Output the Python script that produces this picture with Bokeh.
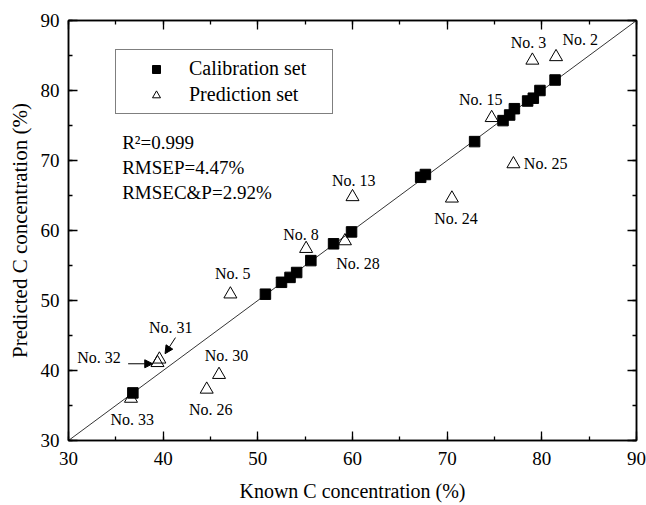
from bokeh.plotting import figure
from bokeh.models import (LinearAxis, Legend, LegendItem, Arrow, NormalHead,
                          ColumnDataSource, Range1d, SingleIntervalTicker,
                          CustomLabelingPolicy)
from bokeh.core.properties import value
from bokeh.embed import file_html
from bokeh.resources import INLINE

FONT = "Liberation Serif"

# ---- data ----
cal_known = [36.8, 50.8, 52.5, 53.4, 54.1, 55.6, 58.0, 59.9, 67.2, 67.7,
             72.9, 75.9, 76.6, 77.1, 78.5, 79.1, 79.8, 81.4]
cal_pred = [36.8, 50.9, 52.6, 53.3, 54.0, 55.7, 58.1, 59.8, 67.6, 68.0,
            72.7, 75.7, 76.5, 77.4, 78.5, 78.9, 80.0, 81.5]

pred_names = ["No. 2", "No. 3", "No. 5", "No. 8", "No. 13", "No. 15", "No. 24",
              "No. 25", "No. 26", "No. 28", "No. 30", "No. 31", "No. 32", "No. 33"]
pred_known = [81.5, 79.0, 47.1, 55.1, 60.0, 74.7, 70.5, 77.0, 44.6, 59.2,
              45.9, 39.6, 39.4, 36.6]
pred_pred = [84.8, 84.3, 50.9, 57.4, 64.8, 76.1, 64.6, 69.5, 37.3, 58.5,
             39.4, 41.6, 41.1, 36.0]

# label positions (data coordinates)
label_x = [84.05, 78.6, 47.36, 54.56, 60.14, 73.55, 70.93, 80.4, 45.02, 60.58,
           46.7, 40.81, 33.22, 36.73]
label_y = [87.3, 86.8, 53.8, 59.5, 67.14, 78.67, 61.67, 69.53, 34.43, 55.24,
           42.14, 46.19, 41.9, 33.0]

diag = [30, 90]

stats_text = ["R\u00b2=0.999", "RMSEP=4.47%", "RMSEC&P=2.92%"]
stats_x = [35.67, 35.67, 35.67]
stats_y = [72.6, 69.0, 65.5]

# ---- figure ----
p = figure(width=646, height=505, x_range=Range1d(30, 90), y_range=Range1d(30, 90),
           output_backend="svg", toolbar_location=None,
           min_border_left=68, min_border_right=10, min_border_top=20,
           min_border_bottom=65)
p.xgrid.visible = False
p.ygrid.visible = False
p.outline_line_color = "black"
p.outline_line_width = 1.5


def style_axis(ax, show_labels=True):
    ax.ticker = SingleIntervalTicker(interval=10, num_minor_ticks=2)
    ax.axis_line_color = "black"
    ax.axis_line_width = 1.5
    ax.major_tick_in = 9
    ax.major_tick_out = 0
    ax.minor_tick_in = 4
    ax.minor_tick_out = 0
    ax.major_tick_line_width = 1.3
    ax.minor_tick_line_width = 1.3
    ax.major_tick_line_color = "black"
    ax.minor_tick_line_color = "black"
    if show_labels:
        ax.major_label_text_font = FONT
        ax.major_label_text_font_size = "19px"
        ax.major_label_text_color = "black"
        ax.major_label_standoff = 9
        ax.axis_label_text_font = FONT
        ax.axis_label_text_font_size = "20px"
        ax.axis_label_text_font_style = "normal"
        ax.axis_label_text_color = "black"
    else:
        ax.major_label_text_font_size = "0px"
        ax.major_label_standoff = 0
        ax.major_label_policy = CustomLabelingPolicy(code="return []")


style_axis(p.xaxis[0])
style_axis(p.yaxis[0])
p.xaxis[0].axis_label = "Known C concentration (%)"
p.yaxis[0].axis_label = "Predicted C concentration (%)"
p.xaxis[0].major_label_standoff = 11
p.xaxis[0].axis_label_standoff = 12
p.yaxis[0].axis_label_standoff = 6
p.yaxis[0].axis_label_text_font_size = "21px"

top = LinearAxis()
style_axis(top, False)
right = LinearAxis()
style_axis(right, False)
p.add_layout(top, "above")
p.add_layout(right, "right")

# diagonal
p.line(diag, diag, line_color="black", line_width=0.8)

cal_src = ColumnDataSource(dict(x=cal_known, y=cal_pred))
pred_src = ColumnDataSource(dict(x=pred_known, y=pred_pred))

sq = p.scatter("x", "y", source=cal_src, marker="square", size=10.5,
               fill_color="black", line_color="black")
tr = p.scatter("x", "y", source=pred_src, marker="triangle", size=13,
               fill_color="white", fill_alpha=0, line_color="black", line_width=1)

# sample labels
p.text(x=label_x, y=label_y, text=pred_names, text_align="center",
       text_baseline="middle", text_font=value(FONT), text_font_size="16px",
       text_color="black")

# stats text
p.text(x=stats_x, y=stats_y, text=stats_text, text_align="left",
       text_baseline="middle", text_font=value(FONT), text_font_size="19px",
       text_color="black")

# arrows for No. 31 and No. 32
p.add_layout(Arrow(end=NormalHead(size=8, fill_color="black", line_color="black"),
                   x_start=41.3, y_start=44.7, x_end=40.2, y_end=42.4,
                   line_color="black", line_width=1))
p.add_layout(Arrow(end=NormalHead(size=8, fill_color="black", line_color="black"),
                   x_start=36.3, y_start=40.96, x_end=38.9, y_end=40.96,
                   line_color="black", line_width=1))

legend = Legend(items=[LegendItem(label="Calibration set", renderers=[sq]),
                       LegendItem(label="Prediction set", renderers=[tr])],
                location=(47, 326), margin=0, padding=7, spacing=3,
                glyph_width=66, glyph_height=20, label_standoff=0,
                label_width=136, label_height=20,
                label_text_font=FONT, label_text_font_size="20px",
                label_text_color="black", border_line_color="black",
                border_line_width=1, background_fill_color="white")
p.add_layout(legend)

open("out.html", "w").write(file_html(p, INLINE))
